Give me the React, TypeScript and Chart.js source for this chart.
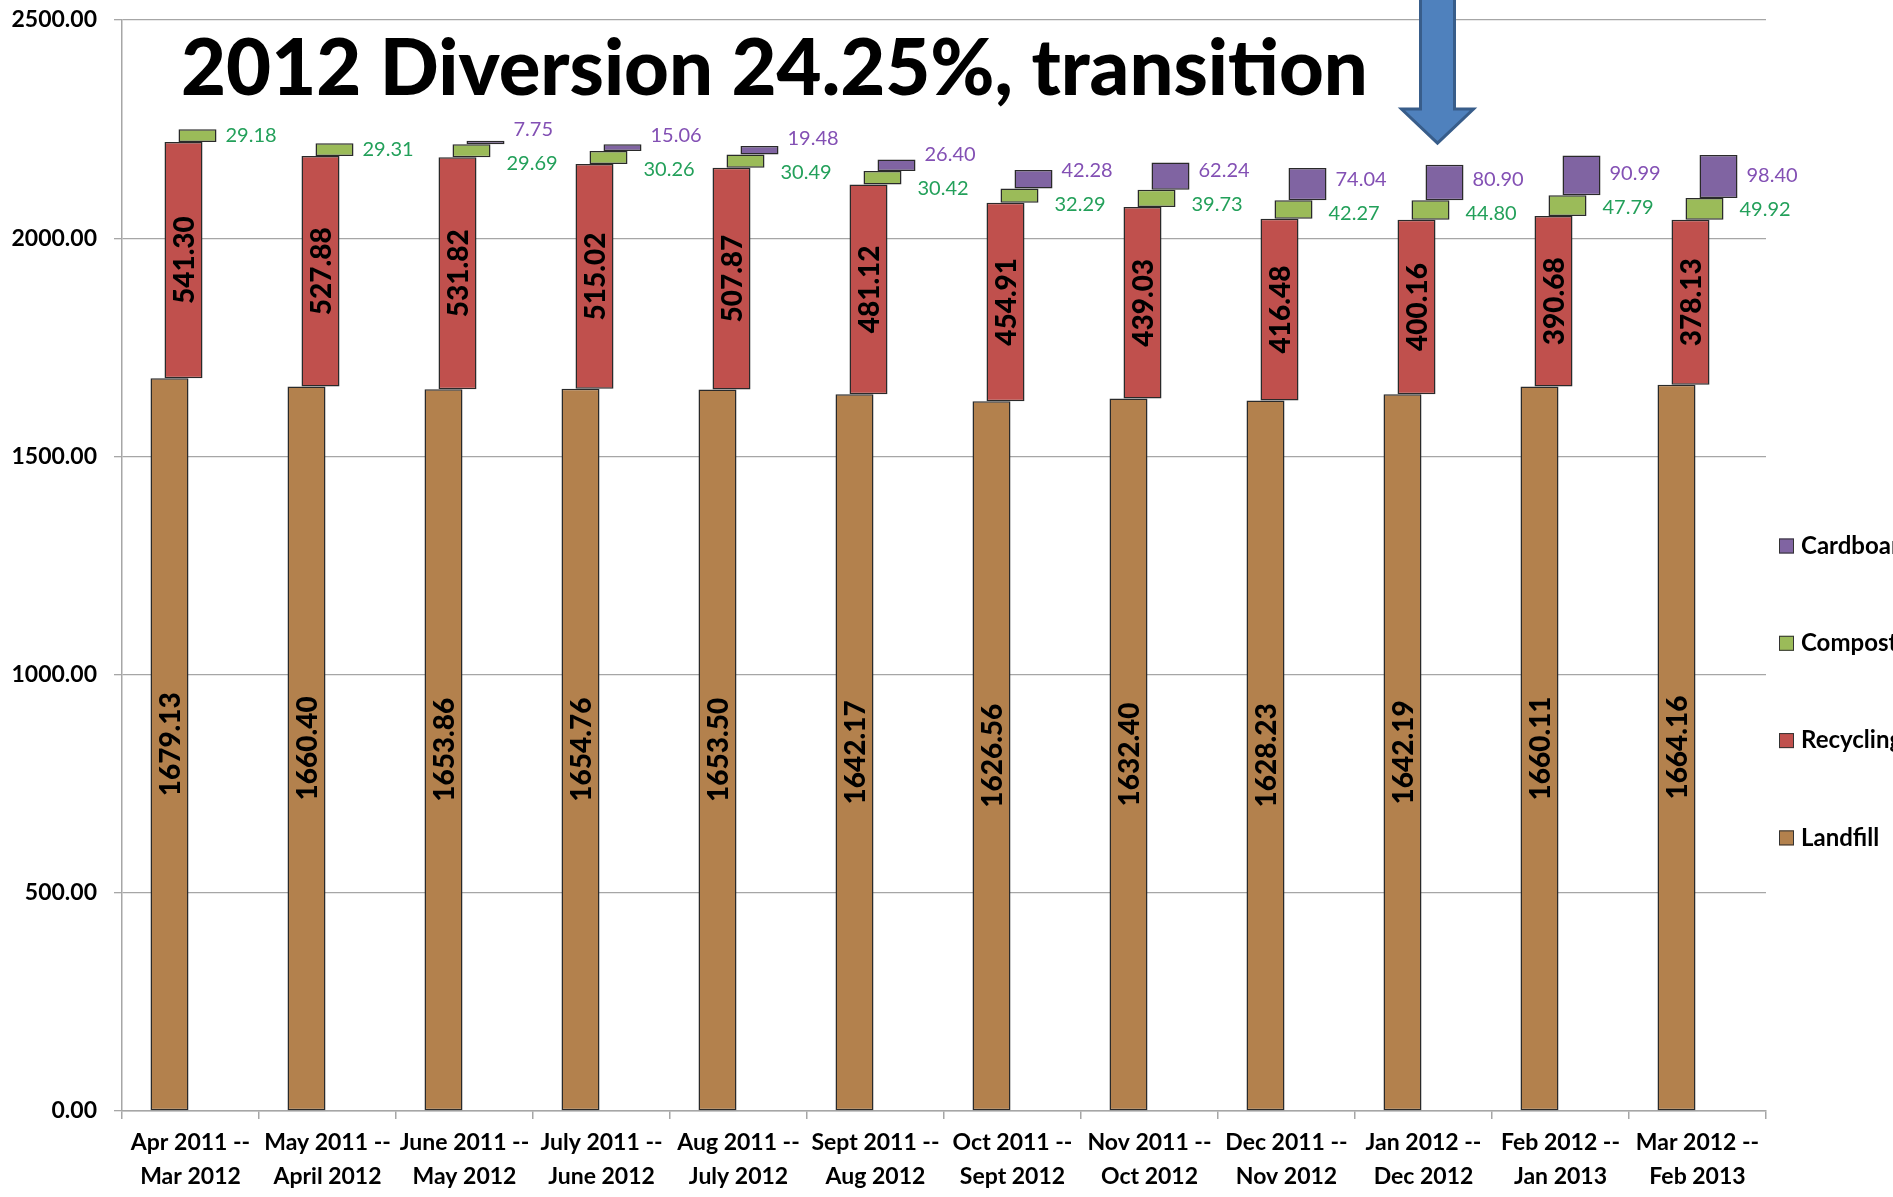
import React, { useEffect, useRef } from 'react';
import { Chart, registerables } from 'chart.js';

Chart.register(...registerables);

const CATEGORIES: string[][] = [
  ['Apr 2011 --', 'Mar 2012'],
  ['May 2011 --', 'April 2012'],
  ['June 2011 --', 'May 2012'],
  ['July 2011 --', 'June 2012'],
  ['Aug 2011 --', 'July 2012'],
  ['Sept 2011 --', 'Aug 2012'],
  ['Oct 2011 --', 'Sept 2012'],
  ['Nov 2011 --', 'Oct 2012'],
  ['Dec 2011 --', 'Nov 2012'],
  ['Jan 2012 --', 'Dec 2012'],
  ['Feb 2012 --', 'Jan 2013'],
  ['Mar 2012 --', 'Feb 2013'],
];

const LANDFILL = [1679.13, 1660.4, 1653.86, 1654.76, 1653.5, 1642.17, 1626.56, 1632.4, 1628.23, 1642.19, 1660.11, 1664.16];
const RECYCLING = [541.3, 527.88, 531.82, 515.02, 507.87, 481.12, 454.91, 439.03, 416.48, 400.16, 390.68, 378.13];
const COMPOST = [29.18, 29.31, 29.69, 30.26, 30.49, 30.42, 32.29, 39.73, 42.27, 44.8, 47.79, 49.92];
const CARDBOARD: (number | null)[] = [null, null, 7.75, 15.06, 19.48, 26.4, 42.28, 62.24, 74.04, 80.9, 90.99, 98.4];

const SERIES_NAMES = ['Landfill', 'Recycling', 'Compost', 'Cardboard'];
const SERIES_COLORS = ['#B3814D', '#C0504D', '#9BBB59', '#8064A2'];
const Y_TICKS = [0, 500, 1000, 1500, 2000, 2500];
const TITLE = '2012 Diversion 24.25%, transition';
const ARROW_CATEGORY = 9;

const SERIES: (number | null)[][] = [LANDFILL, RECYCLING, COMPOST, CARDBOARD];

const FONT = 'Lato, "Open Sans", sans-serif';
const GRID = '#A6A6A6';
const GREEN_LABEL = '#23A05A';
const PURPLE_LABEL = '#8350B4';

function buildFloating(): [number, number][][] {
  const base = CATEGORIES.map(() => 0);
  return SERIES.map((s) =>
    s.map((v, i) => {
      if (v == null) return null as any;
      const lo = base[i];
      base[i] += v;
      return [lo, lo + v] as [number, number];
    })
  );
}

const labelsPlugin = {
  id: 'barLabels',
  afterDatasetsDraw(chart: any) {
    const ctx = chart.ctx as CanvasRenderingContext2D;
    ctx.save();
    for (let d = 0; d < 2; d++) {
      const meta = chart.getDatasetMeta(d);
      meta.data.forEach((bar: any, i: number) => {
        const v = SERIES[d][i];
        if (v == null) return;
        const p = bar.getProps(['x', 'y', 'base'], true);
        ctx.save();
        ctx.translate(p.x, (p.y + p.base) / 2);
        ctx.rotate(-Math.PI / 2);
        ctx.font = `900 28px ${FONT}`;
        ctx.fillStyle = '#000';
        ctx.textAlign = 'center';
        ctx.textBaseline = 'middle';
        ctx.fillText(v.toFixed(2), 0, 1);
        ctx.restore();
      });
    }
    const mc = chart.getDatasetMeta(2);
    const mk = chart.getDatasetMeta(3);
    ctx.font = `20px ${FONT}`;
    ctx.textAlign = 'left';
    ctx.textBaseline = 'middle';
    CATEGORIES.forEach((_, i) => {
      const cv = COMPOST[i];
      const kv = CARDBOARD[i];
      const cb = mc.data[i].getProps(['x', 'y', 'base', 'width'], true);
      let yc = (cb.y + cb.base) / 2;
      if (kv != null) {
        const kb = mk.data[i].getProps(['x', 'y', 'base', 'width'], true);
        let yk = (kb.y + kb.base) / 2;
        const gap = yc - yk;
        const minGap = 34;
        if (gap < minGap) {
          const s = (minGap - gap) / 2;
          yc += s;
          yk -= s;
        }
        ctx.fillStyle = PURPLE_LABEL;
        ctx.fillText(kv.toFixed(2), kb.x + kb.width / 2 + 9, yk);
      }
      ctx.fillStyle = GREEN_LABEL;
      ctx.fillText(cv.toFixed(2), cb.x + cb.width / 2 + (kv != null ? 16 : 9), yc);
    });
    ctx.restore();
  },
};

const decorPlugin = {
  id: 'decor',
  afterDraw(chart: any) {
    const ctx = chart.ctx as CanvasRenderingContext2D;
    const area = chart.chartArea;
    const xs = chart.scales.x;
    const ys = chart.scales.y;
    ctx.save();
    // Title
    ctx.font = `900 100px ${FONT}`;
    const w = ctx.measureText(TITLE).width;
    const size = (100 * 1187) / w;
    ctx.font = `900 ${size}px ${FONT}`;
    ctx.fillStyle = '#000';
    ctx.textAlign = 'left';
    ctx.textBaseline = 'alphabetic';
    ctx.fillText(TITLE, area.left + 59, area.top + 75);

    // Arrow
    const cx = xs.getPixelForValue(ARROW_CATEGORY) + 14;
    const tip = ys.getPixelForValue(2218);
    const headTop = tip - 34;
    ctx.beginPath();
    ctx.moveTo(cx - 17, -5);
    ctx.lineTo(cx + 17, -5);
    ctx.lineTo(cx + 17, headTop);
    ctx.lineTo(cx + 36, headTop);
    ctx.lineTo(cx, tip);
    ctx.lineTo(cx - 36, headTop);
    ctx.lineTo(cx - 17, headTop);
    ctx.closePath();
    ctx.fillStyle = '#4F81BD';
    ctx.fill();
    ctx.lineWidth = 3;
    ctx.strokeStyle = '#385D8A';
    ctx.stroke();

    // Legend (reverse order, top to bottom)
    const lx = area.right + 13;
    const startY = 546;
    const step = 97.3;
    ctx.font = `bold 24px ${FONT}`;
    ctx.textBaseline = 'middle';
    for (let k = 0; k < 4; k++) {
      const d = 3 - k;
      const y = startY + k * step;
      ctx.fillStyle = SERIES_COLORS[d];
      ctx.fillRect(lx, y - 7.5, 15, 15);
      ctx.lineWidth = 1;
      ctx.strokeStyle = '#333';
      ctx.strokeRect(lx + 0.5, y - 7, 14, 14);
      ctx.fillStyle = '#000';
      ctx.fillText(SERIES_NAMES[d], lx + 22, y);
    }
    ctx.restore();
  },
};

export default function App() {
  const ref = useRef<HTMLCanvasElement | null>(null);
  useEffect(() => {
    const canvas = ref.current;
    if (!canvas) return;
    const floating = buildFloating();
    const chart = new Chart(canvas, {
      type: 'bar',
      data: {
        labels: CATEGORIES,
        datasets: SERIES_NAMES.map((name, d) => ({
          label: name,
          data: floating[d] as any,
          backgroundColor: SERIES_COLORS[d],
          borderColor: '#2a2a2a',
          borderWidth: 1.5,
          borderSkipped: false,
          categoryPercentage: 56 / 137,
          barPercentage: 38 / 14,
        })),
      },
      options: {
        responsive: false,
        animation: false,
        events: [],
        layout: { padding: { top: 20, right: 127, bottom: 0, left: 0 } },
        plugins: {
          legend: { display: false },
          tooltip: { enabled: false },
          title: { display: false },
        },
        scales: {
          x: {
            offset: true,
            grid: {
              display: true,
              drawOnChartArea: false,
              drawTicks: true,
              tickLength: 8,
              color: GRID,
              lineWidth: 1.5,
              offset: true,
            },
            border: { display: true, color: GRID, width: 1.5 },
            ticks: {
              color: '#000',
              padding: 7,
              maxRotation: 0,
              autoSkip: false,
              font: { family: FONT, size: 23, weight: 'bold', lineHeight: 34 / 23 },
            },
            afterFit(scale: any) {
              scale.height = 86;
              scale.paddingLeft = 0;
              scale.paddingRight = 0;
            },
          },
          y: {
            min: 0,
            max: 2500,
            afterBuildTicks(scale: any) {
              scale.ticks = Y_TICKS.map((v) => ({ value: v }));
            },
            grid: { color: GRID, lineWidth: 1.3, tickLength: 8, drawTicks: true },
            border: { display: true, color: GRID, width: 1.5 },
            ticks: {
              color: '#000',
              padding: 17,
              font: { family: FONT, size: 23, weight: 'bold' },
              callback: (v: any) => Number(v).toFixed(2),
            },
            afterFit(scale: any) {
              scale.width = 122;
              scale.paddingTop = 0;
              scale.paddingBottom = 0;
            },
          },
        },
      },
      plugins: [labelsPlugin, decorPlugin],
    });
    return () => chart.destroy();
  }, []);

  return (
    <div
      style={{
        position: 'fixed',
        left: 0,
        top: 0,
        width: 1893,
        height: 1197,
        overflow: 'hidden',
        background: '#fff',
      }}
    >
      <canvas ref={ref} width={1893} height={1197} style={{ display: 'block' }} />
    </div>
  );
}
